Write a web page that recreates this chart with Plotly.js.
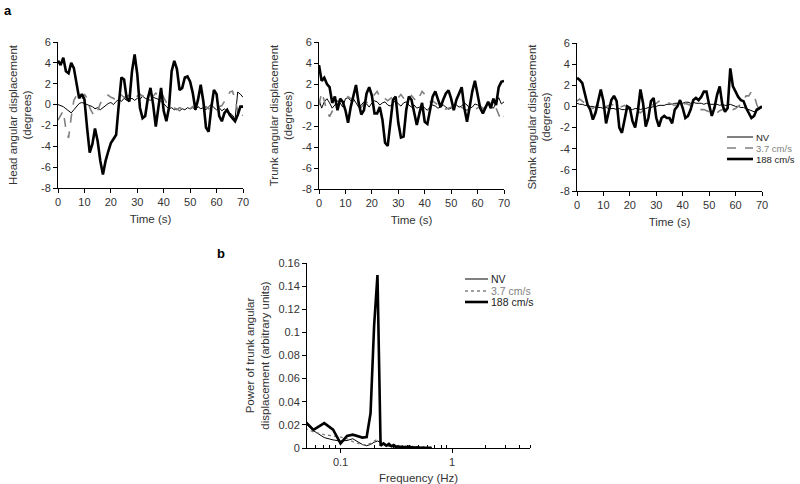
<!DOCTYPE html>
<html>
<head>
<meta charset="utf-8">
<script src="https://cdn.plot.ly/plotly-3.0.1.min.js"></script>
<style>html,body{margin:0;padding:0;background:#fff;}#chart{width:800px;height:484px;}</style>
</head>
<body>
<div id="chart"></div>
<script>
// ---- data ----
const seriesNames = ["NV", "3.7 cm/s", "188 cm/s"];
const time = [0,1,2,3,4,5,6,7,8,9,10,11,12,13,14,15,16,17,18,19,20,21,22,23,24,25,26,27,28,29,30,31,32,33,34,35,36,37,38,39,40,41,42,43,44,45,46,47,48,49,50,51,52,53,54,55,56,57,58,59,60,61,62,63,64,65,66,67,68,69,70];

const headNV = [0,-0.1,-0.2,-0.4,-0.6,-0.8,-0.5,-0.2,0.1,0.2,0.1,0,-0.1,-0.2,-0.4,-0.3,-0.5,-0.3,-0.1,0.1,0.2,0,0.3,0.5,0.3,0.6,0.4,0.5,0.6,0.4,0.6,0.5,0.8,0.6,0.5,0.4,0.7,0.6,0.5,0.3,0.1,-0.2,-0.4,-0.3,-0.5,-0.4,-0.6,-0.4,-0.5,-0.3,-0.4,-0.3,-0.5,-0.2,-0.4,-0.3,-0.5,-0.2,0,-0.3,-0.5,-0.3,-0.6,-0.4,-0.7,-0.8,-1.0,-1.4,1.2,1.0,0.7];
const head37 = [-1.5,-1.0,-0.6,-2.4,-3.2,-1.2,0.4,0.9,0.6,0.5,1.0,0.6,-0.3,-0.8,-1.1,-0.6,0.1,0.5,0.8,0.9,0.7,0.6,0.4,0.6,0.9,0.7,0.8,0.9,0.6,0.7,0.8,1.0,0.8,0.9,0.7,1.0,0.8,1.1,0.9,1.2,0.7,0.2,0,-0.2,-0.3,-0.5,-0.3,-0.4,-0.3,-0.5,-0.4,-0.2,-0.5,-0.4,-0.3,-0.5,-0.2,-0.4,-0.3,-0.5,-0.4,-0.2,-0.1,0.3,0.6,1.2,1.3,0.5,-0.6,-1.3,-1.0];
const head188 = [4.2,3.8,4.5,3.2,3.0,4.0,3.5,2.2,0.6,1.0,0.5,-2.2,-4.6,-3.8,-2.3,-3.5,-5.4,-6.7,-5.4,-4.5,-3.7,-3.3,-2.9,0,2.6,2.4,0.6,0.3,3.2,4.8,2.9,-0.3,-1.3,-1.1,0.6,1.6,0,-2.1,-0.3,1.6,-0.6,-1.6,-0.3,3.2,4.2,3.4,1.4,1.6,2.6,2.7,2.2,1.1,-0.5,0.5,1.9,0.3,-2.2,-2.6,-0.3,1.4,1.0,-1.1,-1.6,-0.8,-0.5,-1.0,-1.3,-1.6,-1.0,-0.2,-0.2];

const trunkNV = [0.5,-0.3,0.3,0.6,0.2,-0.3,0,0.4,0.2,-0.2,0.6,0.7,0.4,0.6,0.2,-0.2,0,0.3,0.1,-0.2,0.2,0.4,0.3,0,0.2,0.3,0,-0.1,0.2,0.4,0.1,-0.1,0.2,0.3,0,-0.2,0,-0.3,-0.2,0,-0.3,-0.5,-0.2,0,-0.1,-0.3,-0.2,0,-0.2,-0.4,-0.3,-0.1,0,-0.2,-0.1,0.2,0,-0.3,-0.2,0.1,0,-0.2,-0.4,-0.1,0.1,-0.2,-0.3,0.2,0.7,0.1,0.3];
const trunk37 = [0,1.2,0.4,-0.6,-1.1,-0.6,-0.8,-0.3,0.6,0.7,0.5,0.8,0.6,0.3,0.1,0,-0.2,0.1,0.2,0.4,0.7,1.0,1.3,0.8,0.5,0.6,0.4,0.6,0.8,0.5,0.7,1.0,0.6,0.3,0.6,0.9,0.6,0.3,0.8,1.3,1.0,0.6,0.3,0.4,0.2,0,-0.2,-0.3,-0.4,-0.3,-0.2,-0.4,-0.5,-0.3,-0.2,-0.4,-0.5,-0.3,-0.2,-0.4,-0.3,-0.1,-0.3,0,0.3,0.1,0.6,-0.3,-1.0,-1.5,-1.1];
const trunk188 = [3.8,2.3,2.6,2.0,1.7,0.2,0.8,-0.5,0.6,0.3,-0.5,-1.7,-0.2,0.8,1.9,0.2,-0.9,-0.5,1.1,1.7,0.9,-0.8,-0.8,-0.2,-1.4,-3.6,-3.9,-1.7,0.5,0.8,-1.7,-3.1,-3.0,-0.5,0.8,0.5,-0.6,-1.9,-0.8,0.2,-1.6,-1.8,-0.5,0.8,1.3,0.5,-0.2,0.5,1.1,1.4,0.6,-0.5,0.5,1.1,1.7,-0.3,-1.6,-0.2,1.3,2.3,1.1,-0.3,-0.8,-0.2,0.3,-0.3,0.6,0,1.7,2.2,2.3];

const shankNV = [0.3,0.2,0.2,0.1,0.1,0,0,-0.1,-0.1,-0.1,-0.2,-0.1,-0.2,-0.2,-0.2,-0.3,-0.2,-0.3,-0.3,-0.2,-0.3,-0.3,-0.2,-0.2,-0.3,-0.2,-0.2,-0.1,-0.1,0,0,0.1,0.1,0.1,0.2,0.2,0.2,0.3,0.3,0.3,0.3,0.4,0.4,0.3,0.4,0.3,0.3,0.3,0.2,0.3,0.2,0.2,0.2,0.2,0.1,0.2,0.1,0.1,0.2,0.1,0,0,-0.1,-0.1,-0.2,-0.3,-0.4,-0.5,-0.4,-0.3,-0.1];
const shank37 = [0.5,0.7,0.5,0.3,0.2,0,-0.2,0,0.1,-0.2,-0.3,0,0.1,0.2,0.1,-0.2,-0.1,0,0.1,-0.1,-0.2,-0.3,-0.4,-0.5,-0.6,-0.4,-0.3,-0.1,0,0.2,0.3,0.5,0.4,0.3,0.4,0.3,0.2,0.1,0.2,0.1,0,0.3,0.2,0.1,0,-0.1,-0.2,-0.3,-0.3,-0.4,-0.5,-0.6,-0.5,-0.6,-0.4,-0.3,-0.2,0,-0.1,-0.3,-0.2,0,0.2,0.6,1.0,1.0,1.4,1.1,0.2,-0.4,0];
const shank188 = [2.7,2.5,2.2,1.25,0.15,-0.3,-1.25,-0.6,0.6,1.6,0.5,-1.6,-0.5,0.6,1.0,0.5,-2.0,-2.5,-1.25,0,-0.15,-1.4,-2.0,-0.5,1.6,0.3,-1.9,-1.1,0.5,0.8,-1.1,-1.9,-1.1,-0.9,-1.1,-1.1,-1.6,-0.3,0,0.6,-0.15,-1.1,-0.9,-0.3,0.6,0.8,0.6,0.9,1.4,1.4,0.15,-0.9,-0.15,1.1,1.9,0.15,-0.5,-0.15,3.6,1.9,1.4,0.9,0.6,0.5,-0.15,-0.6,-1.1,-0.9,-0.3,-0.15,0];

const freq = [0.0429,0.0571,0.0714,0.0857,0.1,0.1143,0.1286,0.1429,0.1571,0.1714,0.1857,0.2,0.2143,0.2286,0.2429,0.2571,0.2714,0.2857,0.3,0.3143,0.3286,0.3429,0.3571,0.3714,0.3857,0.4,0.4143,0.4286,0.4429,0.4571,0.4714,0.4857,0.5,0.5143,0.5286,0.5429,0.5571,0.5714,0.5857,0.6,0.6143,0.6286,0.6429,0.6571];
const powNV = [0.026,0.015,0.009,0.007,0.006,0.0065,0.008,0.005,0.003,0.002,0.003,0.005,0.006,0.005,0.003,0.002,0.0015,0.001,0.0008,0.0006,0.0005,0.0004,0.0004,0.0003,0.0003,0.0002,0.0002,0.0002,0.0001,0.0001,0.0001,0.0001,0.0001,0.0001,0,0,0,0,0,0,0,0,0,0];
const pow37 = [0.019,0.014,0.0115,0.0105,0.0095,0.008,0.0055,0.004,0.003,0.003,0.004,0.006,0.0075,0.006,0.004,0.003,0.002,0.0015,0.001,0.0008,0.0006,0.0005,0.0004,0.0004,0.0003,0.0003,0.0002,0.0002,0.0002,0.0001,0.0001,0.0001,0.0001,0.0001,0,0,0,0,0,0,0,0,0,0];
const pow188 = [0.028,0.0156,0.0215,0.0158,0.004,0.0105,0.0115,0.0105,0.009,0.0095,0.03,0.106,0.1495,0.002,0.004,0.002,0.0035,0.0015,0.0025,0.001,0.0015,0.0008,0.0012,0.0006,0.001,0.0005,0.0015,0.0004,0.0008,0.0003,0.0006,0.0003,0.0005,0.0002,0.0004,0.0002,0.0003,0.0002,0.0003,0.0001,0.0002,0.0001,0.0001,0];

const timeTicks = [0,10,20,30,40,50,60,70];
const dispTicks = [-8,-6,-4,-2,0,2,4,6];
const dispTickText = ["-8","-6","-4","-2","0","2","4","6"];
const powTicks = [0,0.02,0.04,0.06,0.08,0.1,0.12,0.14,0.16];
const powTickText = ["0","0.02","0.04","0.06","0.08","0.1","0.12","0.14","0.16"];
const freqMajor = [0.1,1];
const freqMajorText = ["0.1","1"];
const freqMinor = [0.06,0.07,0.08,0.09,0.2,0.3,0.4,0.5,0.6,0.7,0.8,0.9,2,3,4,5];

// ---- styles ----
const W = 800, H = 484;
const px = v => v / W, py = v => 1 - v / H;
const sNV = {color:'#000', width:1};
const s37 = {color:'#808080', width:1.6, dash:'dash'};
const s188 = {color:'#000', width:2.6};
const s37b = {color:'#808080', width:1.3, dash:'dot'};

function line(x, y, xa, ya, st, name){
  return {x:x, y:y, xaxis:xa, yaxis:ya, type:'scatter', mode:'lines', line:st, name:name, showlegend:false, hoverinfo:'skip'};
}
const traces = [
  line(time, headNV, 'x', 'y', sNV, seriesNames[0]),
  line(time, head37, 'x', 'y', s37, seriesNames[1]),
  line(time, head188, 'x', 'y', s188, seriesNames[2]),
  line(time, trunkNV, 'x2', 'y2', sNV, seriesNames[0]),
  line(time, trunk37, 'x2', 'y2', s37, seriesNames[1]),
  line(time, trunk188, 'x2', 'y2', s188, seriesNames[2]),
  line(time, shankNV, 'x3', 'y3', sNV, seriesNames[0]),
  line(time, shank37, 'x3', 'y3', s37, seriesNames[1]),
  line(time, shank188, 'x3', 'y3', s188, seriesNames[2]),
  line(freq, powNV, 'x4', 'y4', sNV, seriesNames[0]),
  line(freq, pow37, 'x4', 'y4', s37b, seriesNames[1]),
  line(freq, pow188, 'x4', 'y4', s188, seriesNames[2])
];

const FAM = 'Liberation Sans, Arial, sans-serif';
const tickFont = {family:FAM, size:11, color:'#333'};
const titleFont = {family:FAM, size:11.5, color:'#333'};
function xAx(d, extra){
  return Object.assign({domain:d, range:[0,70], tickvals:timeTicks, showline:true, linecolor:'#000', linewidth:1,
    ticks:'outside', ticklen:4, tickcolor:'#000', showgrid:false, zeroline:false, tickfont:tickFont,
    title:{text:'Time (s)', font:titleFont, standoff:7}}, extra||{});
}
function yAx(d, anchor, t){
  return {domain:d, anchor:anchor, range:[-8,6], tickvals:dispTicks, ticktext:dispTickText, showline:true, linecolor:'#000', linewidth:1,
    ticks:'outside', ticklen:4, tickcolor:'#000', showgrid:false, zeroline:false, tickfont:tickFont,
    title:{text:t, font:titleFont, standoff:6}};
}

const legendA = {x0:727, x1:753, xt:755, ys:[137,148,159], fs:9.5};
const legendB = {x0:465, x1:488, xt:490, ys:[279,291,302], fs:10.5};
const shapes = [], annotations = [];
[[legendA, [sNV, s37, s188]], [legendB, [sNV, s37b, s188]]].forEach(([L, styles]) => {
  styles.forEach((st, i) => {
    shapes.push({type:'line', xref:'paper', yref:'paper', x0:px(L.x0), x1:px(L.x1), y0:py(L.ys[i]), y1:py(L.ys[i]), line:st});
    annotations.push({xref:'paper', yref:'paper', x:px(L.xt), y:py(L.ys[i]), xanchor:'left', yanchor:'middle', showarrow:false,
      borderpad:0, text:seriesNames[i], font:{family:FAM, size:L.fs, color: i===1 ? '#808080' : '#222'}});
  });
});
annotations.push({xref:'paper', yref:'paper', x:px(2), y:py(10), xanchor:'left', yanchor:'middle', showarrow:false,
  text:'<b>a</b>', font:{family:FAM, size:13, color:'#000'}});
annotations.push({xref:'paper', yref:'paper', x:px(215), y:py(253), xanchor:'left', yanchor:'middle', showarrow:false,
  text:'<b>b</b>', font:{family:FAM, size:13, color:'#000'}});

const layout = {
  width:W, height:H, margin:{l:0, r:0, t:0, b:0}, paper_bgcolor:'#fff', plot_bgcolor:'#fff', showlegend:false,
  font:{family:FAM, size:11, color:'#333'},
  xaxis: xAx([px(58), px(243)], {anchor:'y'}),
  yaxis: yAx([py(188), py(42)], 'x', 'Head angular displacement<br>(degrees)'),
  xaxis2: xAx([px(319), px(504)], {anchor:'y2'}),
  yaxis2: yAx([py(189), py(42)], 'x2', 'Trunk angular displacement<br>(degrees)'),
  xaxis3: xAx([px(577), px(762)], {anchor:'y3'}),
  yaxis3: yAx([py(191), py(43)], 'x3', 'Shank angular displacement<br>(degrees)'),
  xaxis4: {domain:[px(307), px(530)], anchor:'y4', type:'log', range:[Math.log10(0.05), Math.log10(5)],
    tickvals:freqMajor, ticktext:freqMajorText, showline:true, linecolor:'#000', linewidth:1,
    ticks:'outside', ticklen:4, tickcolor:'#000', showgrid:false, zeroline:false, tickfont:tickFont,
    minor:{tickvals:freqMinor, ticks:'inside', ticklen:3, tickcolor:'#000', showgrid:false},
    title:{text:'Frequency (Hz)', font:titleFont, standoff:7}},
  yaxis4: {domain:[py(448), py(263)], anchor:'x4', range:[0,0.16], tickvals:powTicks, ticktext:powTickText, showline:true, linecolor:'#000', linewidth:1,
    ticks:'outside', ticklen:4, tickcolor:'#000', showgrid:false, zeroline:false, tickfont:tickFont,
    title:{text:'Power of trunk angular<br>displacement (arbitrary units)', font:titleFont, standoff:6}},
  shapes:shapes, annotations:annotations
};

Plotly.newPlot('chart', traces, layout, {staticPlot:true, displayModeBar:false});
</script>
</body>
</html>
